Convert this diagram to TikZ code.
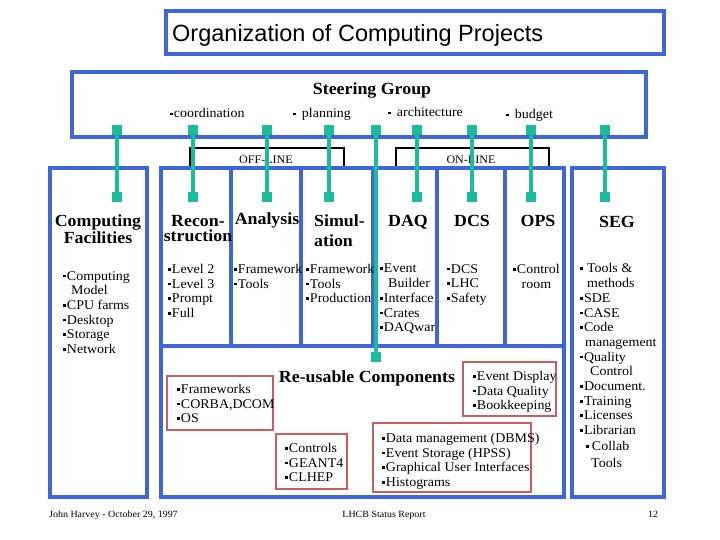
\documentclass[tikz,border=0pt]{standalone}
\usepackage{fontspec}
\setmainfont[FakeStretch=1.05]{Liberation Serif}
\newfontfamily\slidefont{Liberation Sans}
\usetikzlibrary{positioning}
\definecolor{frame}{HTML}{3F66D9}
\definecolor{wirec}{HTML}{1ABC9C}
\definecolor{tagc}{HTML}{CD5C5C}
\newcommand{\bsq}{\rule[0.2em]{0.21em}{0.21em}\hspace{1pt}}
\tikzset{
  panel/.style={draw=frame, line width=3.2pt},
  tagbox/.style={draw=tagc, line width=2.4pt},
  bracket/.style={draw=black, line width=1.8pt},
  hub/.style={fill=wirec, minimum size=10pt, inner sep=0pt},
  wire/.style={draw=wirec, line width=4pt},
  head/.style={font=\fontsize{17}{15.5}\selectfont\bfseries, inner sep=0pt, align=center},
  list/.style={font=\fontsize{13.3}{14.7}\selectfont, inner sep=0pt, align=left, anchor=north west},
  tick/.style={list, anchor=base west},
  foot/.style={font=\fontsize{9.5}{11}\selectfont, inner sep=0pt, anchor=base}
}

\begin{document}
\begin{tikzpicture}[x=1pt,y=-1pt]
  \useasboundingbox (0,0) rectangle (720,540);

  % title bar
  \draw[panel] (166,11) rectangle (664,54);
  \node[font=\slidefont\fontsize{23.5}{26}\selectfont, inner sep=0pt, anchor=base west] (title) at (172,42) {Organization of Computing Projects};

  % steering group
  \draw[panel] (72,72) rectangle (646,137);
  \node[head, anchor=base] (steer) at (372,95) {Steering Group};
  \foreach \n/\x/\y/\lab in {coord/170/118/{\bsq coordination}, plan/293/118/{\bsq\hspace{5pt}planning},
                             arch/388/117/{\bsq\hspace{5pt}architecture}, budg/506/119/{\bsq\hspace{5pt}budget}}
    \node[tick] (\n) at (\x,\y) {\lab};

  % off-line / on-line brackets
  \draw[bracket] (190,168) -- (190,148) -- (344,148) -- (344,168);
  \draw[bracket] (396,168) -- (396,148) -- (549,148) -- (549,168);
  \node[font=\fontsize{11.5}{12}\selectfont, inner sep=0pt, anchor=base] (off) at (266,164) {OFF-LINE};
  \node[font=\fontsize{11.5}{12}\selectfont, inner sep=0pt, anchor=base] (on) at (471,164) {ON-LINE};

  % project panels
  \draw[panel] (50,168) rectangle (147,497);
  \draw[panel] (161,168) rectangle (564,497);
  \draw[panel] (572,168) rectangle (664,497);
  \foreach \x in {231,301,373,437,505}
    \draw[panel] (\x,168) -- (\x,346);
  \draw[panel] (161,346) -- (564,346);

  % headings
  \node[head, anchor=north] (cf) at (98,215) {Computing\\Facilities};
  \node[head, anchor=north] (rec) at (198,215) {Recon-\\struction};
  \node[head, anchor=base] (ana) at (267,225) {Analysis};
  \node[head, anchor=north west, align=left, font=\fontsize{17}{20}\selectfont\bfseries] (sim) at (314,215) {Simul-\\ation};
  \foreach \n/\x/\lab in {daq/408/DAQ, dcs/472/DCS, ops/538/OPS}
    \node[head, anchor=base] (\n) at (\x,226) {\lab};
  \node[head, anchor=base] (seg) at (617,228) {SEG};
  \node[head, anchor=base] (reuse) at (367,382) {Re-usable Components};

  % item lists
  \node[list] (cfl) at (63,271) {\bsq Computing\\\hspace{8pt}Model\\\bsq CPU farms\\\bsq Desktop\\\bsq Storage\\\bsq Network};
  \node[list] (recl) at (168,264) {\bsq Level 2\\\bsq Level 3\\\bsq Prompt\\\bsq Full};
  \node[list] (anal) at (234,264) {\bsq Framework\\\bsq Tools};
  \node[list] (siml) at (306,264) {\bsq Framework\\\bsq Tools\\\bsq Production};
  \node[list] (daql) at (380,264) {\bsq Event\\\hspace{8pt}Builder\\\bsq Interface\\\bsq Crates\\\bsq DAQwar};
  \node[list] (dcsl) at (447,264) {\bsq DCS\\\bsq LHC\\\bsq Safety};
  \node[list, align=center] (opsl) at (513,264) {\bsq Control\\room};
  \node[list] (segl) at (580,263.5) {\bsq\hspace{3pt}Tools \&\\\hspace{7pt}methods\\\bsq SDE\\\bsq CASE\\\bsq Code\\\hspace{5pt}management\\\bsq Quality\\\hspace{10pt}Control\\\bsq Document.\\\bsq Training\\\bsq Licenses\\\bsq Librarian};
  \node[list, font=\fontsize{13.3}{17}\selectfont] (collab) at (586,441) {\bsq\hspace{2pt}Collab\\\hspace{5pt}Tools};

  % re-usable components
  \draw[tagbox] (167,376) rectangle (273,430);
  \node[list] (fwl) at (177,384) {\bsq Frameworks\\\bsq CORBA,DCOM\\\bsq OS};
  \draw[tagbox] (276,434) rectangle (347,489);
  \node[list] (ctl) at (285,443) {\bsq Controls\\\bsq GEANT4\\\bsq CLHEP};
  \draw[tagbox] (373,423) rectangle (531,492);
  \node[list] (dml) at (382,433) {\bsq Data management (DBMS)\\\bsq Event Storage (HPSS)\\\bsq Graphical User Interfaces\\\bsq Histograms};
  \draw[tagbox] (463,362) rectangle (556,416);
  \node[list] (edl) at (473,371) {\bsq Event Display\\\bsq Data Quality\\\bsq Bookkeeping};

  % footer
  \node[foot, anchor=base west] (auth) at (49,517) {John Harvey - October 29, 1997};
  \node[foot] (rep) at (384,517) {LHCB Status Report};
  \node[foot] (page) at (653,517) {12};

  % links from the steering group
  \foreach \n/\x/\yb in {cf/117/197, rec/193/197, ana/267/197, sim/329/197, reu/376/357,
                         daq/417/197, dcs/472/197, ops/531/197, seg/605/197} {
    \node[hub] (top-\n) at (\x,130) {};
    \node[hub] (bot-\n) at (\x,\yb) {};
    \draw[wire] (top-\n) -- (bot-\n);
  }
\end{tikzpicture}
\end{document}
